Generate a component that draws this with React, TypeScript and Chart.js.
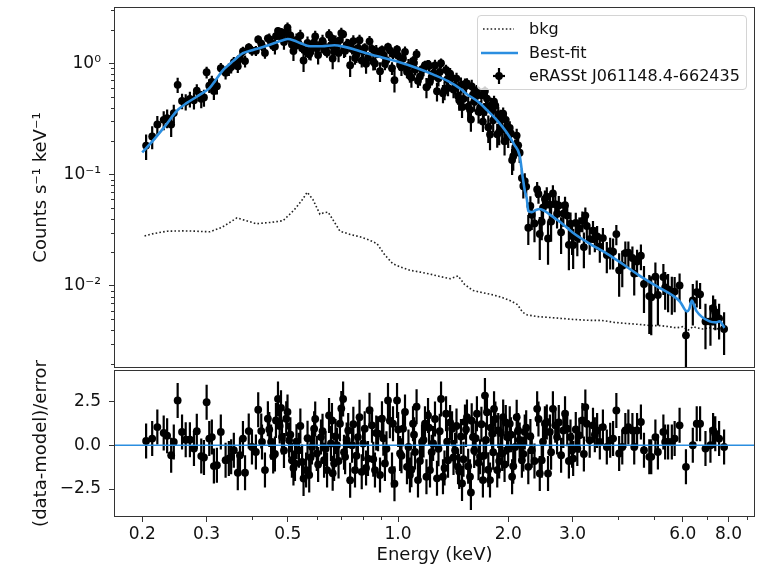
import React, { useEffect, useRef } from 'react';
import { Chart, registerables } from 'chart.js';

Chart.register(...registerables);

// ---- axis limits ----
const X_MIN = 0.1675;
const X_MAX = 9.45;
const Y_MIN = 0.00183;
const Y_MAX = 3.2;
const R_MIN = -4.1;
const R_MAX = 4.3;

// ---- spectrum data points (keV, counts/s/keV) ----
const energy = [
  0.205, 0.213, 0.220, 0.229, 0.234, 0.240, 0.244, 0.250, 0.257, 0.263,
  0.270, 0.277, 0.282, 0.290, 0.295, 0.300, 0.305, 0.310, 0.314, 0.320,
  0.328, 0.338, 0.345, 0.350, 0.356, 0.365, 0.370, 0.377, 0.382, 0.391,
  0.399, 0.409, 0.415, 0.423, 0.425, 0.433, 0.441, 0.450, 0.456, 0.464,
  0.470, 0.479, 0.482, 0.495, 0.504, 0.513, 0.523, 0.536, 0.547, 0.561,
  0.572, 0.582, 0.590, 0.600, 0.616, 0.628, 0.640, 0.656, 0.660, 0.669,
  0.681, 0.694, 0.708, 0.717, 0.731, 0.749, 0.763, 0.777, 0.796, 0.811,
  0.828, 0.849, 0.865, 0.882, 0.904, 0.921, 0.939, 0.963, 0.969, 0.994,
  1.013, 1.032, 1.058, 1.078, 1.099, 1.113, 1.134, 1.163, 1.185, 1.208,
  1.223, 1.247, 1.278, 1.311, 1.327, 1.353, 1.370, 1.405, 1.432, 1.459,
  1.496, 1.524, 1.543, 1.573, 1.582, 1.602, 1.643, 1.675, 1.706, 1.728,
  1.750, 1.784, 1.808, 1.830, 1.867, 1.879, 1.926, 1.938, 1.986, 2.02,
  2.05, 2.09, 2.13, 2.18, 2.22, 2.27, 2.32, 2.40, 2.44, 2.47,
  2.52, 2.57, 2.55, 2.60, 2.65, 2.69, 2.72, 2.79, 2.83, 2.86,
  2.90, 2.96, 2.99, 3.01, 3.09, 3.13, 3.19, 3.25, 3.28, 3.34,
  3.41, 3.50, 3.56, 3.63, 3.72, 3.80, 3.87, 3.95, 4.02, 4.10,
  4.18, 4.26, 4.37, 4.42, 4.50, 4.61, 4.70, 4.86, 4.92, 5.05,
  5.13, 5.31, 5.37, 5.47, 5.60, 5.70, 5.88, 6.12, 6.39, 6.55,
  6.69, 6.92, 7.14, 7.26, 7.36, 7.54, 7.78,
  0.445, 0.461, 0.475, 0.488, 0.499, 0.508, 0.518, 0.528, 0.541, 0.552,
  0.566, 0.577, 0.594, 0.605, 0.622, 0.634, 0.648, 0.663, 0.675, 0.688,
  0.700, 0.712, 0.724, 0.740, 0.755, 0.770, 0.785, 0.803, 0.818, 0.836,
  0.856, 0.872, 0.893, 0.912, 0.930, 0.950, 0.978, 1.001, 1.022, 1.045,
  1.068, 1.088, 1.106, 1.124, 1.148, 1.174, 1.196, 1.215, 1.236, 1.262,
  1.290, 1.300, 1.340, 1.362, 1.388, 1.418, 1.445, 1.470, 1.486, 1.510,
  1.534, 1.555, 1.590, 1.615, 1.630, 1.660, 1.690, 1.715, 1.740, 1.765,
  1.795, 1.820, 1.845, 1.890, 1.910, 1.955, 1.970, 2.000, 2.035, 2.065,
  2.110, 2.150, 2.200, 2.240, 2.30, 2.36, 2.42, 2.49, 2.62, 2.75,
  2.93, 3.06, 3.22, 3.45,
];
const rate = [
  0.182, 0.220, 0.282, 0.310, 0.322, 0.282, 0.357, 0.640, 0.459, 0.451,
  0.478, 0.465, 0.566, 0.479, 0.493, 0.830, 0.628, 0.681, 0.562, 0.622,
  0.902, 0.823, 0.880, 0.924, 1.021, 0.938, 1.100, 1.279, 1.045, 1.384,
  1.297, 1.295, 1.637, 1.503, 1.425, 1.237, 1.673, 1.520, 1.426, 1.749,
  1.949, 1.915, 1.679, 1.876, 1.678, 1.477, 1.420, 1.486, 1.366, 1.266,
  1.204, 1.403, 1.539, 1.360, 1.480, 1.322, 1.251, 1.456, 1.670, 1.277,
  1.432, 1.614, 1.825, 1.294, 1.503, 1.343, 1.112, 1.364, 1.056, 1.375,
  1.122, 1.347, 0.994, 1.243, 1.321, 0.987, 1.405, 0.902, 1.208, 1.333,
  0.970, 1.105, 0.839, 0.771, 1.052, 0.874, 0.696, 0.883, 0.959, 0.981,
  0.686, 0.803, 0.560, 1.002, 0.537, 0.870, 0.600, 0.740, 0.609, 0.509,
  0.404, 0.653, 0.658, 0.383, 0.313, 0.520, 0.572, 0.396, 0.299, 0.562,
  0.481, 0.229, 0.384, 0.452, 0.230, 0.349, 0.255, 0.352, 0.272, 0.262,
  0.135, 0.175, 0.183, 0.093, 0.0874, 0.0333, 0.0435, 0.0736, 0.0293, 0.0377,
  0.0604, 0.0267, 0.0632, 0.0537, 0.0676, 0.0541, 0.0445, 0.0303, 0.0446, 0.0530,
  0.0428, 0.0362, 0.0281, 0.0233, 0.0271, 0.0328, 0.0384, 0.0428, 0.0345, 0.0263,
  0.0313, 0.0279, 0.0225, 0.0269, 0.0189, 0.0205, 0.0203, 0.0292, 0.0138, 0.0152,
  0.0197, 0.0199, 0.0178, 0.0129, 0.0166, 0.0187, 0.0104, 0.0081, 0.0079, 0.0121,
  0.0083, 0.0120, 0.0097, 0.0093, 0.0088, 0.0089, 0.0101, 0.0036, 0.0074, 0.0088,
  0.0084, 0.0048, 0.0048, 0.0063, 0.0058, 0.0051, 0.0041,
  1.644, 1.414, 1.812, 1.552, 2.089, 1.777, 1.288, 1.617, 1.771, 1.058,
  1.526, 1.271, 1.740, 1.186, 1.590, 1.387, 1.807, 1.102, 1.559, 1.237,
  1.867, 1.325, 1.453, 0.959, 1.581, 1.201, 1.612, 1.279, 0.990, 1.573,
  1.038, 1.282, 0.849, 1.187, 1.067, 1.307, 0.704, 1.169, 0.919, 1.266,
  0.946, 0.743, 1.008, 1.204, 0.761, 0.893, 0.610, 0.943, 0.752, 0.956,
  0.732, 0.834, 0.572, 0.716, 0.807, 0.582, 0.728, 0.465, 0.638, 0.479,
  0.627, 0.408, 0.620, 0.452, 0.502, 0.367, 0.517, 0.364, 0.408, 0.266,
  0.420, 0.307, 0.416, 0.242, 0.325, 0.199, 0.310, 0.219, 0.234, 0.146,
  0.224, 0.157, 0.079, 0.078, 0.0523, 0.0364, 0.0670, 0.0504, 0.0378, 0.0528,
  0.0234, 0.0368, 0.0223, 0.0269,
];
const rateErr = [
  0.047, 0.051, 0.054, 0.060, 0.062, 0.065, 0.067, 0.100, 0.073, 0.075,
  0.077, 0.080, 0.081, 0.084, 0.086, 0.100, 0.089, 0.092, 0.094, 0.098,
  0.104, 0.110, 0.113, 0.115, 0.118, 0.122, 0.124, 0.128, 0.128, 0.128,
  0.131, 0.133, 0.134, 0.135, 0.136, 0.137, 0.139, 0.140, 0.141, 0.144,
  0.144, 0.147, 0.148, 0.148, 0.147, 0.144, 0.141, 0.137, 0.134, 0.131,
  0.128, 0.127, 0.127, 0.128, 0.128, 0.129, 0.129, 0.130, 0.159, 0.159,
  0.158, 0.156, 0.155, 0.154, 0.151, 0.148, 0.145, 0.143, 0.139, 0.137,
  0.135, 0.132, 0.130, 0.127, 0.125, 0.123, 0.121, 0.118, 0.117, 0.114,
  0.113, 0.110, 0.107, 0.104, 0.102, 0.100, 0.098, 0.095, 0.093, 0.091,
  0.089, 0.087, 0.107, 0.102, 0.100, 0.097, 0.095, 0.091, 0.089, 0.086,
  0.081, 0.077, 0.075, 0.072, 0.071, 0.068, 0.064, 0.061, 0.058, 0.056,
  0.053, 0.064, 0.062, 0.059, 0.056, 0.055, 0.050, 0.049, 0.045, 0.039,
  0.036, 0.032, 0.029, 0.020, 0.0152, 0.0100, 0.0117, 0.0121, 0.0122, 0.0120,
  0.0116, 0.0112, 0.0136, 0.0131, 0.0125, 0.0121, 0.0117, 0.0110, 0.0106, 0.0103,
  0.0100, 0.0095, 0.0092, 0.0091, 0.0086, 0.0084, 0.0081, 0.0078, 0.0076, 0.0073,
  0.0070, 0.0067, 0.0064, 0.0062, 0.0059, 0.0065, 0.0063, 0.0060, 0.0058, 0.0055,
  0.0053, 0.0051, 0.0048, 0.0047, 0.0045, 0.0049, 0.0047, 0.0044, 0.0043, 0.0041,
  0.0039, 0.0037, 0.0036, 0.0035, 0.0033, 0.0031, 0.0028, 0.0024, 0.0030, 0.0024,
  0.0022, 0.0021, 0.0019, 0.0019, 0.0018, 0.0018, 0.0017,
  0.204, 0.213, 0.220, 0.227, 0.231, 0.245, 0.240, 0.236, 0.228, 0.222,
  0.216, 0.213, 0.213, 0.213, 0.213, 0.215, 0.216, 0.218, 0.218, 0.215,
  0.213, 0.212, 0.209, 0.206, 0.201, 0.198, 0.195, 0.189, 0.185, 0.182,
  0.177, 0.174, 0.171, 0.168, 0.165, 0.162, 0.158, 0.155, 0.152, 0.148,
  0.144, 0.141, 0.139, 0.136, 0.132, 0.128, 0.125, 0.123, 0.120, 0.117,
  0.113, 0.112, 0.107, 0.104, 0.101, 0.098, 0.094, 0.090, 0.105, 0.101,
  0.097, 0.094, 0.089, 0.086, 0.084, 0.080, 0.077, 0.073, 0.070, 0.074,
  0.070, 0.067, 0.064, 0.059, 0.057, 0.051, 0.049, 0.046, 0.042, 0.038,
  0.034, 0.030, 0.018, 0.013, 0.0116, 0.0118, 0.0122, 0.0120, 0.0129, 0.0114,
  0.0096, 0.0087, 0.0079, 0.0068,
];
const resid = [
  0.25, 0.38, 1.04, 0.70, 0.55, -0.57, 0.19, 2.56, 0.76, 0.32,
  0.32, -0.19, 0.80, -0.62, -0.70, 2.46, 0.38, 0.47, -1.19, -1.14,
  0.76, -0.85, -0.76, -0.66, -0.28, -1.57, -0.57, 0.38, -1.57, 0.81,
  -0.10, -0.38, 2.03, 0.81, 0.19, -1.42, 1.52, 0.19, -0.62, 1.42,
  2.65, 2.14, 0.47, 1.52, 0.28, -0.85, -1.04, -0.28, -0.95, -1.42,
  -1.70, -0.10, 0.95, -0.47, 0.47, -0.85, -1.42, 0.10, 1.42, -1.04,
  0.00, 1.23, 2.65, -0.66, 0.85, 0.00, -1.42, 0.47, -1.52, 0.95,
  -0.76, 1.14, -1.42, 0.66, 1.52, -1.04, 2.56, -1.42, 1.23, 2.56,
  -0.47, 0.95, -1.23, -1.70, 1.23, -0.38, -1.99, 0.19, 1.23, 1.70,
  -1.42, 0.10, -1.89, 2.65, -1.80, 1.80, -0.85, 0.95, -0.28, -1.23,
  -2.18, 1.33, 1.61, -1.80, -2.70, 0.47, 1.80, -0.66, -1.99, 2.84,
  1.89, -1.99, 0.66, 2.08, -1.42, 0.85, -0.47, 1.61, 0.47, 1.23,
  -1.80, -0.10, 0.85, -0.85, 0.76, -1.23, -0.28, 2.08, -1.61, -0.85,
  1.23, -1.61, 1.33, 0.76, 2.08, 1.14, 0.47, -0.57, 0.85, 1.80,
  0.95, 0.47, -0.28, -0.76, -0.19, 0.57, 1.42, 2.18, 1.23, 0.28,
  1.14, 0.85, 0.19, 1.04, -0.10, 0.28, 0.38, 1.99, -0.47, -0.10,
  0.85, 1.04, 0.85, -0.10, 0.85, 1.33, -0.28, -0.66, -0.66, 0.47,
  -0.38, 0.76, 0.19, 0.19, 0.19, 0.38, 1.14, -1.23, 0.00, 1.23,
  1.23, -0.19, 0.00, 0.85, 0.66, 0.38, -0.10,
  0.9, -0.5, 1.1, -0.3, 1.9, 0.6, -1.3, 0.2, 1.1, -1.9,
  0.4, -0.7, 1.5, -1.1, 0.8, -0.2, 1.7, -1.6, 0.5, -0.9,
  2.1, -0.4, 0.3, -2.0, 1.2, -0.6, 1.6, 0.1, -1.3, 2.0,
  -0.8, 0.7, -1.7, 0.4, -0.2, 1.4, -2.2, 0.9, -0.6, 1.9,
  -0.1, -1.4, 0.6, 2.2, -0.9, 0.3, -1.8, 1.0, -0.4, 1.5,
  -0.2, 0.8, -1.3, 0.2, 1.3, -0.7, 1.1, -1.5, 0.5, -0.8,
  0.9, -1.2, 1.4, -0.3, 0.4, -1.0, 1.2, -0.6, 0.3, -1.4,
  1.0, -0.4, 1.5, -0.9, 0.7, -1.1, 1.3, -0.2, 0.6, -1.2,
  1.6, 0.3, -0.5, 1.0, 0.5, -0.9, 1.5, 0.2, -0.4, 1.3,
  -0.9, 0.9, -0.5, 0.6,
];

// ---- best-fit model curve ----
const modelEnergy = [
  0.200, 0.215, 0.230, 0.250, 0.265, 0.282, 0.295, 0.306, 0.318, 0.333,
  0.355, 0.377, 0.400, 0.428, 0.460, 0.485, 0.500, 0.520, 0.540, 0.575,
  0.620, 0.670, 0.710, 0.760, 0.820, 0.900, 1.01, 1.12, 1.25, 1.37,
  1.48, 1.54, 1.65, 1.75, 1.86, 1.98, 2.08, 2.15, 2.19, 2.22,
  2.25, 2.27, 2.32, 2.38, 2.44, 2.52, 2.60, 2.80, 3.00, 3.30,
  3.72, 4.10, 4.58, 5.10, 5.63, 5.90, 6.16, 6.25, 6.35, 6.45,
  6.55, 7.10, 7.40, 7.56, 7.80,
];
const modelRate = [
  0.158, 0.205, 0.268, 0.380, 0.440, 0.500, 0.550, 0.600, 0.710, 0.870,
  1.05, 1.23, 1.31, 1.40, 1.52, 1.61, 1.65, 1.60, 1.52, 1.42,
  1.42, 1.45, 1.41, 1.33, 1.23, 1.13, 1.02, 0.91, 0.79, 0.69,
  0.59, 0.53, 0.455, 0.38, 0.31, 0.24, 0.185, 0.148, 0.096, 0.072,
  0.060, 0.047, 0.046, 0.048, 0.049, 0.047, 0.0437, 0.0366, 0.0302, 0.0245,
  0.0195, 0.0158, 0.0123, 0.0099, 0.0082, 0.0072, 0.0059, 0.0062, 0.0074, 0.0066,
  0.0059, 0.0048, 0.0047, 0.0048, 0.0042,
];

// ---- background spectrum ----
const bkgEnergy = [
  0.203, 0.215, 0.234, 0.260, 0.280, 0.306, 0.330, 0.363, 0.385, 0.410,
  0.450, 0.485, 0.520, 0.545, 0.565, 0.585, 0.612, 0.628, 0.644, 0.665,
  0.694, 0.740, 0.787, 0.830, 0.876, 0.920, 0.968, 1.02, 1.08, 1.15,
  1.22, 1.28, 1.34, 1.39, 1.46, 1.52, 1.60, 1.70, 1.82, 1.92,
  2.02, 2.12, 2.19, 2.25, 2.40, 2.60, 2.80, 3.00, 3.34, 3.60,
  3.90, 4.20, 4.58, 4.90, 5.20, 5.50, 5.77, 6.00, 6.20, 6.40,
  6.55, 6.80, 7.10, 7.40, 7.70,
];
const bkgRate = [
  0.0281, 0.0295, 0.0310, 0.0312, 0.0310, 0.0306, 0.0335, 0.0408, 0.0385, 0.0362,
  0.0372, 0.0385, 0.0480, 0.0580, 0.0695, 0.0600, 0.0440, 0.0455, 0.0460, 0.0390,
  0.0310, 0.0290, 0.0276, 0.0260, 0.0240, 0.0190, 0.0158, 0.0147, 0.0138, 0.0133,
  0.0128, 0.0123, 0.0119, 0.0116, 0.0123, 0.0103, 0.0091, 0.0087, 0.0083, 0.0079,
  0.0074, 0.0068, 0.0058, 0.0055, 0.0053, 0.0052, 0.0051, 0.0050, 0.0049, 0.0049,
  0.0047, 0.0046, 0.0045, 0.0044, 0.0044, 0.0043, 0.0042, 0.0043, 0.0040, 0.0043,
  0.0042, 0.0041, 0.0042, 0.0041, 0.0042,
];

// ---- ticks ----
const xTickValues = [0.2, 0.3, 0.5, 1, 2, 3, 6, 8];
const xTickLabels = ['0.2', '0.3', '0.5', '1.0', '2.0', '3.0', '6.0', '8.0'];
const xMinorTicks = [0.4, 0.6, 0.7, 0.8, 0.9, 4, 5, 7, 9];
const yTickValues = [0.01, 0.1, 1];
const yTickLabels = ['10\u207B\u00B2', '10\u207B\u00B9', '10\u2070'];
const yMinorTicks = [
  0.002, 0.003, 0.004, 0.005, 0.006, 0.007, 0.008, 0.009,
  0.02, 0.03, 0.04, 0.05, 0.06, 0.07, 0.08, 0.09,
  0.2, 0.3, 0.4, 0.5, 0.6, 0.7, 0.8, 0.9, 2, 3,
];
const rTickValues = [-2.5, 0, 2.5];
const rTickLabels = ['\u22122.5', '0.0', '2.5'];

const BLUE = '#2b8ee0';
const INK = '#111111';
const FRAME = '#333333';
const FONT = 'DejaVu Sans';
const MARK_R = 3.9;
const BAR_W = 2.2;

function framePlugin(minorX: number[] | null, minorY: number[] | null) {
  return {
    id: 'frameMinor',
    afterDraw(chart: any) {
      const { ctx, chartArea: a, scales } = chart;
      ctx.save();
      ctx.strokeStyle = FRAME;
      ctx.lineWidth = 1;
      ctx.strokeRect(Math.round(a.left) + 0.5, Math.round(a.top) + 0.5,
        Math.round(a.right - a.left) - 1, Math.round(a.bottom - a.top) - 1);
      ctx.beginPath();
      if (minorY) {
        minorY.forEach((v) => {
          const p = Math.round(scales.y.getPixelForValue(v)) + 0.5;
          if (p > a.top && p < a.bottom) {
            ctx.moveTo(a.left - 3, p);
            ctx.lineTo(a.left, p);
          }
        });
      }
      if (minorX) {
        minorX.forEach((v) => {
          const p = Math.round(scales.x.getPixelForValue(v)) + 0.5;
          if (p > a.left && p < a.right) {
            ctx.moveTo(p, a.bottom);
            ctx.lineTo(p, a.bottom + 3);
          }
        });
      }
      ctx.stroke();
      ctx.restore();
    },
  };
}

const fixY = (s: any) => { s.width = 114; s.paddingTop = 0; s.paddingBottom = 0; };
const fixX = (s: any) => { s.height = 53; s.paddingLeft = 0; s.paddingRight = 0; };

export default function App() {
  const topRef = useRef<HTMLCanvasElement | null>(null);
  const botRef = useRef<HTMLCanvasElement | null>(null);

  useEffect(() => {
    Chart.defaults.font.family = FONT;
    Chart.defaults.color = INK;

    const points = energy.map((e, i) => ({ x: e, y: rate[i] }));
    const errSeg: any[] = [];
    energy.forEach((e, i) => {
      errSeg.push({ x: e, y: Math.max(rate[i] - rateErr[i], Y_MIN * 0.5) });
      errSeg.push({ x: e, y: rate[i] + rateErr[i] });
      errSeg.push({ x: e, y: null });
    });
    const model = modelEnergy.map((e, i) => ({ x: e, y: modelRate[i] }));
    const bkg = bkgEnergy.map((e, i) => ({ x: e, y: bkgRate[i] }));

    const residPts = energy.map((e, i) => ({ x: e, y: resid[i] }));
    const residSeg: any[] = [];
    energy.forEach((e, i) => {
      residSeg.push({ x: e, y: resid[i] - 1 });
      residSeg.push({ x: e, y: resid[i] + 1 });
      residSeg.push({ x: e, y: null });
    });

    const yTitle = (text: string) => ({
      display: true,
      text,
      font: { size: 18, family: FONT },
      color: INK,
      padding: { top: 31, bottom: 0 },
    });

    const top = new Chart(topRef.current as HTMLCanvasElement, {
      type: 'scatter',
      data: {
        datasets: [
          { label: 'bkg', data: bkg, showLine: true, borderColor: '#222', borderWidth: 1.6,
            borderDash: [1.6, 2.2], pointRadius: 0, order: 4 } as any,
          { label: 'errors', data: errSeg, showLine: true, spanGaps: false, borderColor: '#000',
            borderWidth: BAR_W, pointRadius: 0, order: 3 } as any,
          { label: 'eRASSt J061148.4-662435', data: points, pointRadius: MARK_R,
            backgroundColor: '#000', borderWidth: 0, order: 2 } as any,
          { label: 'Best-fit', data: model, showLine: true, borderColor: BLUE, borderWidth: 2.6,
            pointRadius: 0, cubicInterpolationMode: 'monotone', order: 1 } as any,
        ],
      },
      options: {
        responsive: false,
        animation: false,
        events: [],
        layout: { padding: { left: 0, right: 9, top: 7, bottom: 2 } },
        plugins: { legend: { display: false }, tooltip: { enabled: false } },
        scales: {
          x: { type: 'logarithmic', min: X_MIN, max: X_MAX, display: false },
          y: {
            type: 'logarithmic', min: Y_MIN, max: Y_MAX,
            afterFit: fixY,
            afterBuildTicks: (s: any) => { s.ticks = yTickValues.map((v) => ({ value: v })); },
            ticks: {
              autoSkip: false, padding: 8, color: INK, font: { size: 17, family: FONT },
              callback: (_v: any, i: number) => yTickLabels[i],
            },
            grid: { drawOnChartArea: false, drawTicks: true, tickLength: 5, color: FRAME },
            border: { display: false },
            title: yTitle('Counts s\u207B\u00B9 keV\u207B\u00B9'),
          },
        },
      } as any,
      plugins: [framePlugin(null, yMinorTicks)],
    });

    const bot = new Chart(botRef.current as HTMLCanvasElement, {
      type: 'scatter',
      data: {
        datasets: [
          { label: 'zero', data: [{ x: X_MIN, y: 0 }, { x: X_MAX, y: 0 }], showLine: true,
            borderColor: BLUE, borderWidth: 1.6, pointRadius: 0, order: 1 } as any,
          { label: 'resid errors', data: residSeg, showLine: true, spanGaps: false,
            borderColor: '#000', borderWidth: BAR_W, pointRadius: 0, order: 3 } as any,
          { label: 'resid', data: residPts, pointRadius: MARK_R, backgroundColor: '#000',
            borderWidth: 0, order: 2 } as any,
        ],
      },
      options: {
        responsive: false,
        animation: false,
        events: [],
        layout: { padding: { left: 0, right: 9, top: 10, bottom: 0 } },
        plugins: { legend: { display: false }, tooltip: { enabled: false } },
        scales: {
          x: {
            type: 'logarithmic', min: X_MIN, max: X_MAX,
            afterFit: fixX,
            afterBuildTicks: (s: any) => { s.ticks = xTickValues.map((v) => ({ value: v })); },
            ticks: {
              autoSkip: false, maxRotation: 0, padding: 2, color: INK,
              font: { size: 17, family: FONT },
              callback: (_v: any, i: number) => xTickLabels[i],
            },
            grid: { drawOnChartArea: false, drawTicks: true, tickLength: 5, color: FRAME },
            border: { display: false },
            title: {
              display: true, text: 'Energy (keV)', color: INK,
              font: { size: 18, family: FONT }, padding: { top: 0, bottom: 4 },
            },
          },
          y: {
            type: 'linear', min: R_MIN, max: R_MAX,
            afterFit: fixY,
            afterBuildTicks: (s: any) => { s.ticks = rTickValues.map((v) => ({ value: v })); },
            ticks: {
              autoSkip: false, padding: 8, color: INK, font: { size: 17, family: FONT },
              callback: (_v: any, i: number) => rTickLabels[i],
            },
            grid: { drawOnChartArea: false, drawTicks: true, tickLength: 5, color: FRAME },
            border: { display: false },
            title: yTitle('(data-model)/error'),
          },
        },
      } as any,
      plugins: [framePlugin(xMinorTicks, null)],
    });

    return () => {
      top.destroy();
      bot.destroy();
    };
  }, []);

  const legendText: React.CSSProperties = {
    position: 'absolute', left: 51, fontFamily: FONT, fontSize: 16, color: INK,
    lineHeight: '20px', whiteSpace: 'nowrap',
  };

  return (
    <div style={{ position: 'absolute', left: 0, top: 0, width: 764, height: 570, background: '#fff', overflow: 'hidden' }}>
      <canvas ref={topRef} width={764} height={372} style={{ position: 'absolute', left: 0, top: 0, width: 764, height: 372 }} />
      <canvas ref={botRef} width={764} height={210} style={{ position: 'absolute', left: 0, top: 360, width: 764, height: 210 }} />
      <div style={{
        position: 'absolute', left: 477, top: 15, width: 270, height: 75, boxSizing: 'border-box',
        border: '1px solid #d4d4d4', borderRadius: 4, background: 'rgba(255,255,255,0.8)',
      }}>
        <svg width={50} height={75} style={{ position: 'absolute', left: 0, top: 0 }}>
          <line x1={5} y1={13} x2={36} y2={13} stroke="#222" strokeWidth={1.6} strokeDasharray="1.6,2.2" />
          <line x1={3} y1={37} x2={40} y2={37} stroke={BLUE} strokeWidth={2.6} />
          <line x1={21} y1={52} x2={21} y2={68} stroke="#000" strokeWidth={BAR_W} />
          <line x1={15} y1={60} x2={27} y2={60} stroke="#000" strokeWidth={BAR_W} />
          <circle cx={21} cy={60} r={MARK_R} fill="#000" />
        </svg>
        <div style={{ ...legendText, top: 3 }}>bkg</div>
        <div style={{ ...legendText, top: 27 }}>Best-fit</div>
        <div style={{ ...legendText, top: 50 }}>eRASSt J061148.4-662435</div>
      </div>
    </div>
  );
}
